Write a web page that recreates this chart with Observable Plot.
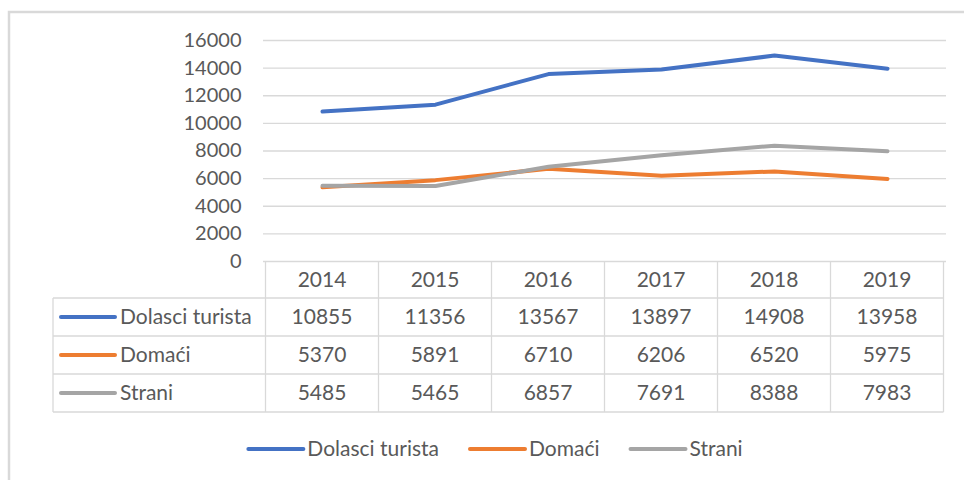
<!DOCTYPE html>
<html><head><meta charset="utf-8">
<script src="https://cdn.jsdelivr.net/npm/d3@7"></script>
<script src="https://cdn.jsdelivr.net/npm/@observablehq/plot@0.6"></script>
<style>
body{margin:0;background:#fff;}
#chart{position:relative;width:964px;height:480px;overflow:hidden;background:#fff;}
</style></head><body><div id="chart"></div>
<script>
const years = ["2014","2015","2016","2017","2018","2019"];
const seriesNames = ["Dolasci turista","Domaći","Strani"];
const dolasci = [10855,11356,13567,13897,14908,13958];
const domaci = [5370,5891,6710,6206,6520,5975];
const strani = [5485,5465,6857,7691,8388,7983];
const colors = ["#4472C4","#ED7D31","#A5A5A5"];
const yTicks = [0,2000,4000,6000,8000,10000,12000,14000,16000];

const values = [dolasci, domaci, strani];
const data = seriesNames.flatMap((s,i)=>years.map((y,j)=>({series:s, year:y, value:values[i][j]})));

const font = "Lato, 'Noto Sans', sans-serif";
const textColor = "#595959";
const gridColor = "#d9d9d9";
const fs = 21;

const plot = Plot.plot({
  width:964, height:480,
  marginTop:40, marginBottom:219, marginLeft:263, marginRight:18,
  style:{fontFamily:font, fontSize:fs+"px", color:textColor, background:"transparent", overflow:"visible"},
  x:{type:"point", domain:years, padding:0.5, axis:null},
  y:{domain:[0,16000], axis:null},
  color:{domain:seriesNames, range:colors},
  marks:[
    Plot.gridY(yTicks, {stroke:gridColor, strokeOpacity:1, strokeWidth:1.3}),
    Plot.axisY(yTicks, {label:null, tickSize:0, tickPadding:22, tickFormat:d=>String(d), fill:textColor, fontSize:fs-1}),
    Plot.line(data, {x:"year", y:"value", z:"series", stroke:"series", strokeWidth:4, strokeLinecap:"round", strokeLinejoin:"round"})
  ]
});
document.getElementById("chart").appendChild(plot);

const svg = d3.select(plot);
svg.insert("rect", ":first-child").attr("x",9).attr("y",12).attr("width",1000).attr("height",500)
  .attr("fill","none").attr("stroke",gridColor).attr("stroke-width",2.5);

const sx = plot.scale("x"), sy = plot.scale("y"), sc = plot.scale("color");
const X = d => sx.apply(d);
const step = X(years[1]) - X(years[0]);
const colLeft = X(years[0]) - step/2;
const colRight = X(years[years.length-1]) + step/2;
const tTop = sy.apply(0);
const headerBottom = tTop + 37;
const rowH = 38;
const tableLeft = 53;
const tableBottom = headerBottom + rowH*seriesNames.length;

const g = svg.append("g").attr("font-family",font).attr("font-size",fs).attr("fill",textColor);
for (let r=0; r<=seriesNames.length; r++) {
  const y = headerBottom + r*rowH;
  g.append("line").attr("x1",tableLeft).attr("x2",colRight).attr("y1",y).attr("y2",y)
    .attr("stroke",gridColor).attr("stroke-width",1.3);
}
g.append("line").attr("x1",tableLeft).attr("x2",tableLeft).attr("y1",headerBottom).attr("y2",tableBottom)
  .attr("stroke",gridColor).attr("stroke-width",1.3);
for (let k=0; k<=years.length; k++) {
  const x = colLeft + k*step;
  g.append("line").attr("x1",x).attr("x2",x).attr("y1",tTop).attr("y2",tableBottom)
    .attr("stroke",gridColor).attr("stroke-width",1.3);
}
years.forEach(y => {
  g.append("text").attr("x",X(y)).attr("y",(tTop+headerBottom)/2).attr("text-anchor","middle")
    .attr("dy","0.35em").text(y);
});
seriesNames.forEach((s,i) => {
  const cy = headerBottom + rowH*i + rowH/2;
  g.append("line").attr("x1",61).attr("x2",115).attr("y1",cy).attr("y2",cy)
    .attr("stroke",sc.apply(s)).attr("stroke-width",4).attr("stroke-linecap","round");
  g.append("text").attr("x",120).attr("y",cy).attr("dy","0.35em").attr("text-anchor","start").text(s);
  years.forEach((y,j) => {
    g.append("text").attr("x",X(y)).attr("y",cy).attr("dy","0.35em").attr("text-anchor","middle")
      .text(String(values[i][j]));
  });
});
const lg = svg.append("g").attr("font-family",font).attr("font-size",fs).attr("fill",textColor);
const legY = 449, keyLen = 55, keyGap = 4, itemGap = 31;
const items = seriesNames.map(s => {
  const t = lg.append("text").attr("y",legY).attr("dy","0.35em").attr("text-anchor","start").text(s);
  return {s, t, w: t.node().getComputedTextLength()};
});
const total = d3.sum(items, d => keyLen + keyGap + d.w) + itemGap*(items.length-1);
let cx = 495.5 - total/2;
items.forEach(d => {
  lg.append("line").attr("x1",cx).attr("x2",cx+keyLen).attr("y1",legY).attr("y2",legY)
    .attr("stroke",sc.apply(d.s)).attr("stroke-width",4).attr("stroke-linecap","round");
  d.t.attr("x", cx+keyLen+keyGap);
  cx += keyLen + keyGap + d.w + itemGap;
});
</script></body></html>
